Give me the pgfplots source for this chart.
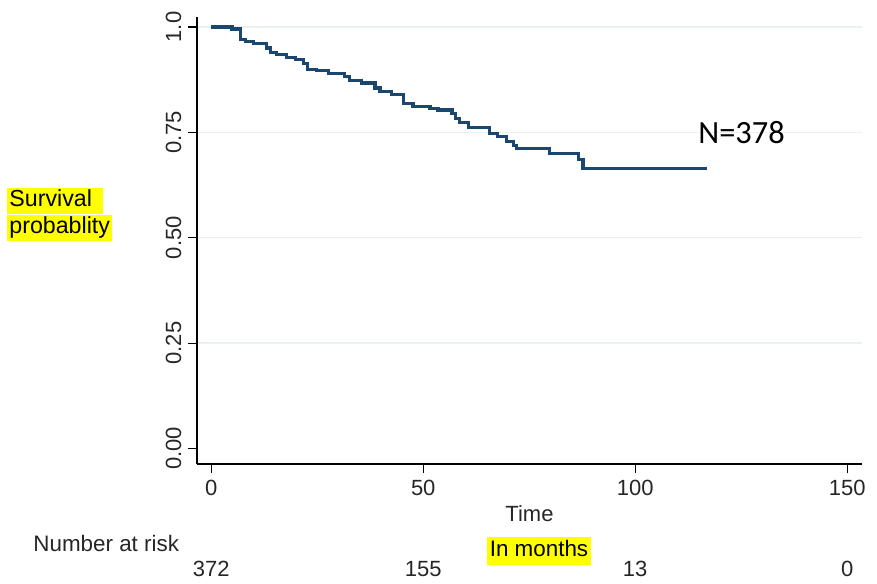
\documentclass[border=0pt]{standalone}
\usepackage{fontspec}
\setmainfont{Liberation Sans}
\newfontfamily\carlito{Carlito}
\usepackage{pgfplots}
\pgfplotsset{compat=1.18}
\definecolor{kmblue}{HTML}{1A476F}
\definecolor{gridc}{HTML}{E8F0F1}
\definecolor{hl}{HTML}{FFFF00}
\begin{document}
\begin{tikzpicture}
\useasboundingbox (0,0) rectangle (438.5pt,291.5pt);
\begin{axis}[
  at={(98.5pt,59.5pt)}, anchor=south west,
  scale only axis, width=332.5pt, height=223.65pt,
  xmin=-3.37, xmax=153.5, ymin=-0.0368, ymax=1.0244,
  axis x line*=bottom, axis y line*=left,
  axis line style={line width=0.8pt, black},
  tick align=outside, major tick length=4.3pt,
  tick style={line width=0.6pt, black},
  xtick={0,50,100,150},
  ytick={0.25,0.5,0.75,1}, yticklabels={0.25,0.50,0.75,1.0},
  extra y ticks={0}, extra y tick labels={0.00},
  extra y tick style={grid=none},
  ymajorgrids, grid style={gridc, line width=0.7pt},
  /pgf/number format/assume math mode=true,
  tick label style={font=\fontsize{11}{13}\selectfont, text=black!85},
  yticklabel style={rotate=90, anchor=south, yshift=0pt},
  clip=false,
]
\addplot[const plot, kmblue, line width=1.6pt] coordinates {
(0,1.0) (4.9,0.995) (6.8,0.971) (8.0,0.965) (10.0,0.961) (13.0,0.950)
(14.0,0.940) (15.3,0.935) (17.8,0.928) (19.8,0.922) (21.7,0.914)
(22.7,0.900) (24.9,0.896) (27.6,0.890) (31.5,0.882) (32.6,0.873)
(35.5,0.867) (38.6,0.855) (39.8,0.847) (42.5,0.839) (45.3,0.819)
(47.6,0.811) (51.6,0.807) (53.5,0.803) (56.8,0.795) (57.6,0.783)
(58.6,0.774) (60.7,0.762) (65.7,0.747) (67.5,0.740) (69.7,0.728)
(71.3,0.718) (72.0,0.712) (79.8,0.700) (86.7,0.685) (87.7,0.665)
(116.9,0.665)
};
\node[anchor=base west, inner sep=0pt, font=\carlito\fontsize{16.2}{19}\selectfont] at (axis cs:114.8,0.724) {N=378};
\node[font=\fontsize{11}{13}\selectfont, text=black!85] at (axis description cs:0.5,0) [yshift=-24.75pt] {Time};
\node[font=\fontsize{11}{13}\selectfont, text=black!85] at (axis cs:0,-0.286) {372};
\node[font=\fontsize{11}{13}\selectfont, text=black!85] at (axis cs:50,-0.286) {155};
\node[font=\fontsize{11}{13}\selectfont, text=black!85] at (axis cs:100,-0.286) {13};
\node[font=\fontsize{11}{13}\selectfont, text=black!85] at (axis cs:150,-0.286) {0};
\end{axis}
\node[anchor=north west, fill=hl, inner xsep=1pt, inner ysep=1.2pt, text height=0.8em, text depth=0.25em, font=\fontsize{11.6}{13}\selectfont] at (3.5pt,197.5pt) {Survival\rule{4.5pt}{0pt}};
\node[anchor=north west, fill=hl, inner xsep=1pt, inner ysep=1.2pt, text height=0.8em, text depth=0.25em, font=\fontsize{11.6}{13}\selectfont] at (3.5pt,184pt) {probablity};
\node[anchor=west, inner sep=0pt, font=\fontsize{11.2}{13}\selectfont, text=black!85] at (16.5pt,20pt) {Number at risk};
\node[fill=hl, inner xsep=1.5pt, inner ysep=1.6pt, text height=0.8em, text depth=0.25em, font=\fontsize{11.2}{13}\selectfont] at (269.5pt,16pt) {In months};
\end{tikzpicture}
\end{document}
